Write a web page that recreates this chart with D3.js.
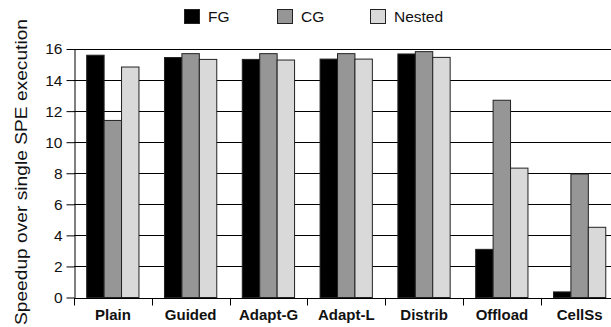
<!DOCTYPE html>
<html>
<head>
<meta charset="utf-8">
<script src="https://cdn.jsdelivr.net/npm/d3@7/dist/d3.min.js"></script>
<style>
  html, body { margin: 0; padding: 0; background: #fff; }
  svg { display: block; }
  svg text { font-family: "Liberation Sans", Arial, sans-serif; }
</style>
</head>
<body>
<svg id="chart" width="611" height="327"></svg>
<script>
// Speedup of each scheduling scheme, per parallelisation granularity
const categories = ["Plain", "Guided", "Adapt-G", "Adapt-L", "Distrib", "Offload", "CellSs"];
const seriesNames = ["FG", "CG", "Nested"];
const fgValues     = [15.6, 15.45, 15.33, 15.35, 15.68, 3.1, 0.36];
const cgValues     = [11.4, 15.7, 15.7, 15.7, 15.83, 12.7, 7.95];
const nestedValues = [14.84, 15.33, 15.29, 15.35, 15.46, 8.33, 4.52];
const yTicks = [0, 2, 4, 6, 8, 10, 12, 14, 16];
const seriesColors = ["#000000", "#969696", "#d9d9d9"];

const values = [fgValues, cgValues, nestedValues];

const svg = d3.select("#chart");
const plotLeft = 74, plotTop = 49, plotBottom = 297.5;
const plotRight = plotLeft + categories.length * 77.8;

const x0 = d3.scaleBand().domain(categories).range([plotLeft, plotRight]);
const groupStart = x0.bandwidth() * 0.163;
const x1 = d3.scaleBand().domain(seriesNames)
  .range([groupStart, groupStart + x0.bandwidth() * 0.672]);
const y = d3.scaleLinear().domain([0, 16]).range([plotBottom, plotTop]);

// horizontal gridlines
svg.append("g")
  .selectAll("line")
  .data(yTicks.filter(t => t > 0))
  .join("line")
  .attr("x1", plotLeft).attr("x2", plotRight)
  .attr("y1", d => Math.round(y(d)) + 0.5).attr("y2", d => Math.round(y(d)) + 0.5)
  .attr("stroke", "#000").attr("stroke-width", 1);

// bars
const groups = svg.append("g")
  .selectAll("g")
  .data(categories)
  .join("g")
  .attr("transform", d => `translate(${x0(d)},0)`);

groups.selectAll("rect")
  .data((d, i) => seriesNames.map((s, j) => ({ s, j, v: values[j][i] })))
  .join("rect")
  .attr("x", d => x1(d.s))
  .attr("width", x1.bandwidth())
  .attr("y", d => y(d.v))
  .attr("height", d => y(0) - y(d.v))
  .attr("fill", d => seriesColors[d.j])
  .attr("stroke", "#222")
  .attr("stroke-width", 1);

// y axis
const yAxis = svg.append("g")
  .attr("transform", `translate(${plotLeft + 0.5},0)`)
  .call(d3.axisLeft(y).tickValues(yTicks).tickSize(8).tickPadding(4).tickSizeOuter(0));
yAxis.attr("font-family", null);
yAxis.selectAll("text").attr("font-size", 15.5).attr("fill", "#111");
yAxis.selectAll("line, path").attr("stroke", "#000");

// x axis with ticks at category boundaries
const xAxisG = svg.append("g").attr("transform", `translate(0,${Math.round(plotBottom) + 0.5})`);
xAxisG.append("line").attr("x1", plotLeft).attr("x2", plotRight).attr("stroke", "#000");
xAxisG.selectAll("line.tick")
  .data(categories)
  .join("line")
  .attr("class", "tick")
  .attr("x1", d => Math.round(x0(d)) + 0.5).attr("x2", d => Math.round(x0(d)) + 0.5)
  .attr("y1", 0).attr("y2", 7)
  .attr("stroke", "#000");
xAxisG.selectAll("text")
  .data(categories)
  .join("text")
  .attr("x", d => x0(d) + x0.bandwidth() / 2)
  .attr("y", 21)
  .attr("text-anchor", "middle")
  .attr("font-size", 15)
  .attr("font-weight", "bold")
  .attr("fill", "#111")
  .text(d => d);

// y axis title
svg.append("text")
  .attr("transform", "translate(27,172) rotate(-90)")
  .attr("text-anchor", "middle")
  .attr("font-size", 16.5)
  .attr("textLength", 306)
  .attr("lengthAdjust", "spacingAndGlyphs")
  .attr("fill", "#111")
  .text("Speedup over single SPE execution");

// legend
const legendX = [184, 277, 370];
const legend = svg.append("g")
  .selectAll("g")
  .data(seriesNames)
  .join("g")
  .attr("transform", (d, i) => `translate(${legendX[i]},9)`);
legend.append("rect")
  .attr("x", 0.5).attr("y", 0.5)
  .attr("width", 15).attr("height", 14)
  .attr("fill", (d, i) => seriesColors[i])
  .attr("stroke", "#222");
legend.append("text")
  .attr("x", 24).attr("y", 12.5)
  .attr("font-size", 15.5)
  .attr("fill", "#111")
  .text(d => d);
</script>
</body>
</html>
